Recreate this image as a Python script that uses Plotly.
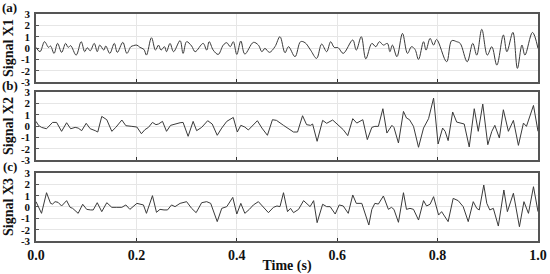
import plotly.graph_objects as go
from plotly.subplots import make_subplots

# ---- data ----
x1_t = [0.000,0.008,0.017,0.025,0.029,0.036,0.043,0.051,0.059,0.064,0.069,0.080,0.090,0.097,0.102,0.108,
        0.116,0.122,0.127,0.135,0.139,0.147,0.156,0.162,0.173,0.181,0.189,0.194,0.201,0.207,0.215,0.220,
        0.230,0.238,0.244,0.249,0.256,0.260,0.267,0.274,0.287,0.293,0.300,0.310,0.317,0.333,0.340,0.345,
        0.353,0.363,0.373,0.380,0.387,0.393,0.400,0.408,0.416,0.433,0.443,0.450,0.456,0.465,0.476,0.486,
        0.496,0.503,0.516,0.527,0.536,0.547,0.559,0.569,0.579,0.587,0.594,0.602,0.612,0.631,0.638,0.648,
        0.657,0.669,0.677,0.684,0.692,0.700,0.705,0.710,0.719,0.730,0.740,0.748,0.755,0.762,0.772,0.777,
        0.785,0.792,0.798,0.818,0.828,0.838,0.845,0.859,0.870,0.878,0.888,0.899,0.908,0.918,0.931,0.938,
        0.950,0.959,0.968,0.974,0.989,1.000]
x1_v = [0.06,-0.32,0.56,0.06,0.18,-0.47,0.41,-0.38,0.41,0.06,0.21,-0.62,0.56,-0.32,0.03,-0.24,
        0.41,-0.32,0.26,-0.18,0.18,-0.47,0.41,-0.38,0.50,-0.47,0.12,0.21,0.26,0.06,-0.12,-0.62,
        0.91,-0.18,0.26,-0.18,0.12,-0.32,0.41,-0.32,0.65,-0.47,0.56,0.18,-0.32,0.41,-0.18,0.56,
        -0.18,-0.56,0.26,0.47,0.12,0.56,-0.56,0.62,-0.53,0.50,0.26,-0.32,-0.03,-0.38,0.12,1.00,
        -0.41,0.12,-0.76,0.56,0.47,-0.18,-0.91,0.35,-0.32,0.56,0.06,0.03,-0.47,0.71,-0.18,1.00,
        -0.95,0.41,0.12,0.56,0.26,0.41,-0.32,0.26,-0.76,1.29,-0.47,0.12,-0.12,-1.00,0.56,-0.18,
        0.85,0.26,0.76,-1.21,0.65,0.56,0.41,-1.21,0.41,-0.62,1.65,-0.62,0.12,-1.50,1.15,-0.32,
        1.38,-1.79,0.26,-0.62,1.38,-0.03]

x2_t = [0.000,0.005,0.011,0.021,0.033,0.041,0.051,0.061,0.069,0.078,0.084,0.091,0.100,0.108,0.118,0.123,
        0.131,0.141,0.151,0.159,0.171,0.179,0.191,0.201,0.210,0.217,0.224,0.232,0.239,0.244,0.252,0.260,
        0.268,0.277,0.287,0.293,0.303,0.313,0.320,0.330,0.342,0.351,0.361,0.370,0.380,0.393,0.401,0.408,
        0.416,0.423,0.433,0.441,0.450,0.461,0.471,0.479,0.493,0.503,0.513,0.521,0.531,0.539,0.547,0.551,
        0.560,0.571,0.579,0.591,0.602,0.612,0.621,0.631,0.639,0.651,0.660,0.669,0.675,0.682,0.691,0.699,
        0.709,0.713,0.722,0.732,0.738,0.744,0.752,0.762,0.772,0.782,0.792,0.801,0.810,0.815,0.821,0.830,
        0.838,0.848,0.853,0.863,0.873,0.881,0.890,0.900,0.908,0.914,0.923,0.931,0.941,0.951,0.961,0.971,
        0.977,0.991,1.000]
x2_v = [0.41,0.06,-0.12,-0.24,0.32,0.32,-0.47,0.29,-0.24,-0.12,-0.18,-0.41,0.24,-0.24,-0.41,-0.53,
        0.85,0.56,-0.47,-0.12,0.53,0.03,-0.03,-0.09,-0.68,-0.32,-0.12,0.32,0.12,0.18,0.41,-0.47,
        0.06,0.18,0.29,0.32,-0.91,0.41,-0.41,-0.12,0.47,0.18,-0.82,-0.18,0.41,0.76,-0.53,0.06,
        -0.09,-0.35,0.06,0.47,-0.18,-0.82,0.56,0.50,0.06,-0.24,-0.53,-0.53,0.91,0.12,0.06,0.18,
        -1.35,0.50,0.24,0.53,0.06,-0.32,-0.85,0.65,0.26,0.56,-1.20,-0.12,-0.03,-0.03,1.53,-0.62,
        0.06,-0.12,-1.50,1.29,0.71,0.56,-0.03,-1.88,-0.18,0.65,2.47,-1.59,-0.18,-0.47,-1.29,1.24,
        0.35,0.21,0.18,-1.85,1.53,-0.47,1.94,-1.65,-0.47,0.06,-1.06,1.44,-0.47,0.50,-1.71,0.26,
        -0.03,1.82,-0.47]

x3_t = [0.000,0.005,0.011,0.021,0.029,0.033,0.038,0.044,0.051,0.061,0.068,0.073,0.084,0.093,0.101,0.109,
        0.114,0.122,0.131,0.141,0.151,0.161,0.171,0.179,0.187,0.201,0.207,0.214,0.220,0.232,0.240,0.247,
        0.255,0.262,0.270,0.277,0.287,0.300,0.310,0.319,0.330,0.340,0.348,0.361,0.370,0.380,0.392,0.400,
        0.408,0.416,0.425,0.433,0.443,0.453,0.463,0.473,0.480,0.486,0.493,0.501,0.507,0.513,0.523,0.533,
        0.539,0.546,0.553,0.560,0.571,0.579,0.586,0.596,0.604,0.612,0.622,0.631,0.638,0.649,0.663,0.669,
        0.675,0.682,0.692,0.702,0.708,0.713,0.722,0.732,0.738,0.745,0.752,0.762,0.772,0.778,0.785,0.792,
        0.802,0.808,0.821,0.831,0.841,0.851,0.861,0.871,0.878,0.883,0.892,0.898,0.904,0.911,0.921,0.932,
        0.939,0.951,0.963,0.972,0.981,0.991,1.000]
x3_v = [0.47,-0.03,-0.56,1.26,0.32,0.26,0.47,0.41,0.09,0.56,-0.03,-0.12,-0.56,0.24,-0.21,-0.26,
        -0.26,0.38,-0.41,0.38,-0.03,-0.03,-0.03,0.18,-0.21,0.32,0.24,0.18,-0.56,1.00,-0.47,-0.21,
        -0.26,-0.26,0.18,0.03,0.32,0.47,-0.12,-0.50,0.38,0.47,0.32,-1.29,-0.12,0.03,0.85,-0.62,
        0.32,-0.56,-0.21,0.18,0.47,0.03,-0.50,-0.03,0.09,0.03,1.26,-0.41,-0.12,-0.50,-0.21,0.56,
        0.32,0.03,0.56,-1.38,0.24,0.03,0.03,-0.62,0.18,0.09,-0.56,1.06,0.32,0.32,-1.59,-0.21,
        0.32,0.26,0.97,-0.21,-0.03,-0.21,-1.35,1.26,-0.21,-0.12,-0.21,-1.15,0.56,0.09,0.24,0.91,
        -0.71,-0.41,-1.29,0.76,0.56,0.03,-1.29,0.47,-0.12,-0.26,1.94,0.32,-0.26,-0.12,-1.68,1.50,
        -0.41,1.21,-1.74,0.47,-0.56,1.79,-0.41]

panel_tags = ["(a)", "(b)", "(c)"]
y_titles = ["Signal X1", "Signal X2", "Signal X3"]
y_ticks = [-3, -2, -1, 0, 1, 2, 3]
x_ticks = [0.0, 0.2, 0.4, 0.6, 0.8, 1.0]
x_title = "Time (s)"

FONT = "Liberation Serif"

fig = make_subplots(rows=3, cols=1, shared_xaxes=True)

series = [(x1_t, x1_v, "spline"), (x2_t, x2_v, "linear"), (x3_t, x3_v, "linear")]
for i, (t, v, shp) in enumerate(series, start=1):
    fig.add_trace(go.Scatter(x=t, y=v, mode="lines",
                             line=dict(color="#3a3a3a", width=1, shape=shp, smoothing=1.0),
                             showlegend=False, hoverinfo="skip"), row=i, col=1)

domains = [[0.700, 1.0], [0.357, 0.656], [0.0, 0.2996]]
for i in range(1, 4):
    fig.update_yaxes(row=i, col=1, range=[-3, 3], tickvals=y_ticks, ticktext=[str(k) for k in y_ticks],
                     domain=domains[i-1], automargin=False,
                     showline=True, mirror=True, linecolor="#555555", linewidth=1.5,
                     showgrid=True, gridcolor="#e6e6e6", gridwidth=1, zeroline=False,
                     ticks="inside", ticklen=3, tickcolor="#555", tickwidth=1, ticklabelstandoff=2,
                     tickfont=dict(family=FONT, size=11, color="#111", weight="bold"),
                     title=dict(text=y_titles[i-1], standoff=4,
                                font=dict(family=FONT, size=14, color="#111", weight="bold")))
    fig.update_xaxes(row=i, col=1, range=[0, 1], tickvals=x_ticks, automargin=False,
                     showline=True, mirror=True, linecolor="#555555", linewidth=1.5,
                     showgrid=True, gridcolor="#e6e6e6", gridwidth=1, zeroline=False,
                     ticks="inside", ticklen=3, tickcolor="#333", tickwidth=1)

fig.update_xaxes(row=3, col=1, showticklabels=True, tickformat=".1f",
                 tickfont=dict(family=FONT, size=14, color="#111", weight="bold"),
                 title=dict(text=x_title, standoff=3,
                            font=dict(family=FONT, size=14, color="#111", weight="bold")))

for i, tag in enumerate(panel_tags):
    fig.add_annotation(text=tag, xref="paper", yref="paper", x=-0.052, y=domains[i][1],
                       xanchor="center", yanchor="bottom", showarrow=False, yshift=-3,
                       font=dict(family=FONT, size=13, color="#111", weight="bold"))

fig.update_layout(width=550, height=274, margin=dict(l=36, r=12, t=14, b=33),
                  paper_bgcolor="white", plot_bgcolor="white")

fig.write_html("out.html")
